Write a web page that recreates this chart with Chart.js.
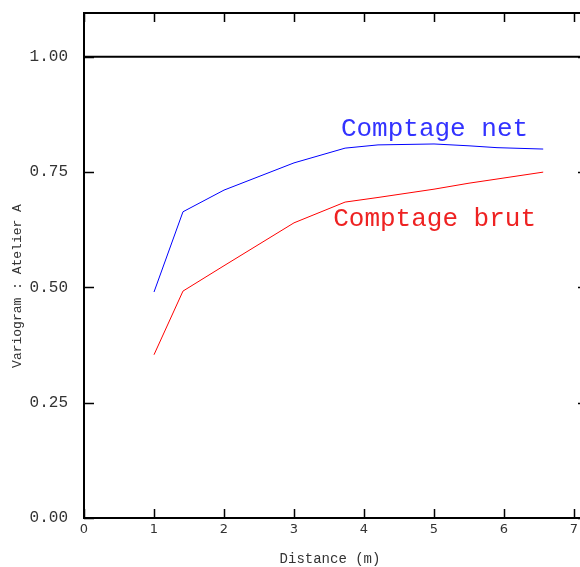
<!DOCTYPE html>
<html>
<head>
<meta charset="utf-8">
<script src="https://cdn.jsdelivr.net/npm/chart.js@4"></script>
<style>
  html, body { margin: 0; padding: 0; background: #fff; overflow: hidden; }
  #wrap { width: 600px; height: 567px; }
</style>
</head>
<body>
<div id="wrap"><canvas id="chart-area"></canvas></div>
<script>
// lag distances (m) and variogram values
const lags = [1.0, 1.414, 2.0, 3.0, 3.73, 4.2, 5.0, 5.5, 5.9, 6.56];
const net  = [0.490, 0.664, 0.711, 0.770, 0.802, 0.809, 0.811, 0.807, 0.803, 0.800];
const brut = [0.354, 0.492, 0.547, 0.640, 0.685, 0.695, 0.713, 0.726, 0.735, 0.750];
const sillX = [0, 7.2];
const sillY = [1, 1];
const xTicks = [0, 1, 2, 3, 4, 5, 6, 7];
const yTicks = [0, 0.25, 0.5, 0.75, 1.0];

const mono = "'Liberation Mono', 'Courier New', monospace";

function pts(xs, ys) { return xs.map((v, i) => ({x: v, y: ys[i]})); }

// frame, inward ticks, curve names and axis titles
const frame = {
    id: 'frame',
    afterDatasetsDraw(chart) {
        const ctx = chart.ctx;
        const a = chart.chartArea;
        const xs = chart.scales.x, ys = chart.scales.y;
        ctx.save();
        ctx.strokeStyle = '#000';
        ctx.lineWidth = 2;
        ctx.strokeRect(a.left, a.top, a.right - a.left, a.bottom - a.top);
        ctx.lineWidth = 1.5;
        ctx.beginPath();
        xTicks.forEach(v => {
            const px = Math.round(xs.getPixelForValue(v)) + 0.5;
            ctx.moveTo(px, a.bottom); ctx.lineTo(px, a.bottom - 9);
            ctx.moveTo(px, a.top); ctx.lineTo(px, a.top + 9);
        });
        yTicks.forEach(v => {
            const py = Math.round(ys.getPixelForValue(v)) + 0.5;
            ctx.moveTo(a.left, py); ctx.lineTo(a.left + 10, py);
            ctx.moveTo(a.right, py); ctx.lineTo(a.right - 10, py);
        });
        ctx.stroke();

        ctx.font = '26px ' + mono;
        ctx.textBaseline = 'alphabetic';
        ctx.textAlign = 'left';
        ctx.fillStyle = '#3333ff';
        ctx.fillText('Comptage net', xs.getPixelForValue(3.67), ys.getPixelForValue(0.829));
        ctx.fillStyle = '#ee2222';
        ctx.fillText('Comptage brut', xs.getPixelForValue(3.56), ys.getPixelForValue(0.633));

        ctx.fillStyle = '#333';
        ctx.textAlign = 'center';
        ctx.textBaseline = 'middle';
        ctx.font = '14px ' + mono;
        ctx.fillText('Distance (m)', 330, 559);
        ctx.font = '13px ' + mono;
        ctx.translate(18, 286);
        ctx.rotate(-Math.PI / 2);
        ctx.fillText('Variogram : Atelier A', 0, 0);
        ctx.restore();
    }
};

function noPad(s) {
    s.paddingTop = 0; s.paddingBottom = 0;
    s.paddingLeft = 0; s.paddingRight = 0;
}

new Chart(document.getElementById('chart-area'), {
    type: 'scatter',
    data: {
        datasets: [
            { label: 'sill', data: pts(sillX, sillY), showLine: true, borderColor: '#000', borderWidth: 2, pointRadius: 0 },
            { label: 'Comptage net', data: pts(lags, net), showLine: true, borderColor: '#0000ff', borderWidth: 1, pointRadius: 0 },
            { label: 'Comptage brut', data: pts(lags, brut), showLine: true, borderColor: '#ff0000', borderWidth: 1, pointRadius: 0 }
        ]
    },
    options: {
        responsive: true,
        maintainAspectRatio: false,
        animation: false,
        layout: { padding: { top: 13, right: 12, left: 0, bottom: 0 } },
        plugins: { legend: { display: false }, tooltip: { enabled: false } },
        scales: {
            x: {
                type: 'linear', min: 0, max: 7.2,
                grid: { display: false, drawTicks: false },
                border: { display: false },
                afterFit: s => { s.height = 49; noPad(s); },
                afterBuildTicks: s => { s.ticks = xTicks.map(v => ({value: v})); },
                ticks: { padding: 4, color: '#333', font: { family: "'DejaVu Sans', sans-serif", size: 13 }, maxRotation: 0 }
            },
            y: {
                type: 'linear', min: 0, max: 1.095,
                grid: { display: false, drawTicks: false },
                border: { display: false },
                afterFit: s => { s.width = 84; noPad(s); },
                afterBuildTicks: s => { s.ticks = yTicks.map(v => ({value: v})); },
                ticks: { padding: 16, color: '#333', font: { family: mono, size: 16 }, callback: v => v.toFixed(2) }
            }
        }
    },
    plugins: [frame]
});
</script>
</body>
</html>
